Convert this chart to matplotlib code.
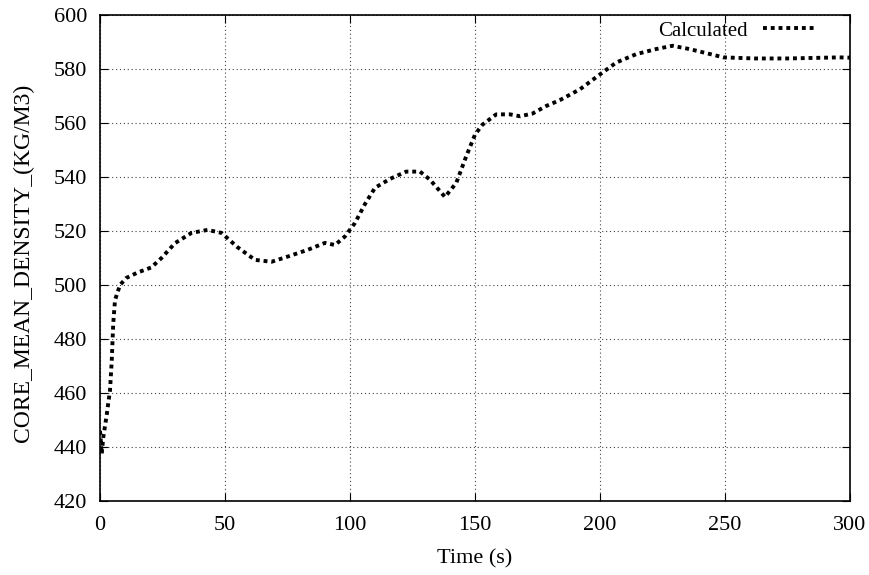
import matplotlib
matplotlib.use("Agg")
import matplotlib.pyplot as plt

plt.rcParams['font.family'] = ['Liberation Serif', 'DejaVu Serif']

# values
time_s = [0, 0.7, 1.3, 2.7, 4, 4.7, 5.3, 6, 8, 10.5, 15, 20.5, 24.6, 30, 36.6,
          43, 48.6, 55, 62, 68.6, 75, 83, 90, 94, 98, 102, 106, 110, 116,
          122.5, 128, 132, 138, 142.5, 146.5, 150, 153, 158.5, 164, 168, 173,
          178.5, 184, 192, 200, 206.5, 214.5, 222.5, 229, 235.7, 242.4, 249.4,
          262, 275, 295.6, 300]
density = [446, 437.5, 443.5, 452, 461, 472, 485.8, 494.4, 500, 502.6, 504.6,
           506.5, 510, 515.5, 519.3, 520.4, 519.3, 514, 509.3, 508.6, 510.5,
           513, 515.6, 514.8, 518, 523, 530, 536, 539.3, 542, 542, 539, 532.6,
           537.8, 547.7, 555.7, 559.4, 563.2, 563.2, 562.5, 563.5, 566.3,
           568.5, 572.5, 578, 582.4, 585.5, 587.4, 588.6, 587.4, 585.9, 584.3,
           583.9, 583.9, 584.3, 584.2]

W, H = 870, 575
fig = plt.figure(figsize=(W / 100, H / 100), dpi=100)
ax = fig.add_axes([100 / W, (H - 501) / H, 750 / W, 486 / H])

ax.plot(time_s, density, color='black', linewidth=2.8,
        linestyle=(0, (1, 1)), label='Calculated')

ax.set_xlim(0, 300)
ax.set_ylim(420, 600)
ax.set_xticks(range(0, 301, 50))
ax.set_yticks(range(420, 601, 20))
ax.grid(True, color='#444444', linestyle=(0, (1, 2.5)), linewidth=0.8)
ax.tick_params(direction='in', top=True, right=True, length=6, labelsize=16)
ax.tick_params(axis='x', pad=11)
ax.tick_params(axis='y', pad=9)
for s in ax.spines.values():
    s.set_linewidth(1.2)

ax.set_xlabel('Time (s)', fontsize=16, labelpad=10)
ax.set_ylabel('CORE_MEAN_DENSITY_(KG/M3)', fontsize=17)
ax.yaxis.set_label_coords((34 - 100) / 750, (501 - 263) / 486)

leg = ax.legend(loc='center right', frameon=False, fontsize=15,
                markerfirst=False, handlelength=2.6, handletextpad=0.7,
                borderpad=0, borderaxespad=0,
                bbox_to_anchor=(817 / W, 1 - 31 / H),
                bbox_transform=fig.transFigure)

fig.savefig('out.png', dpi=100)
